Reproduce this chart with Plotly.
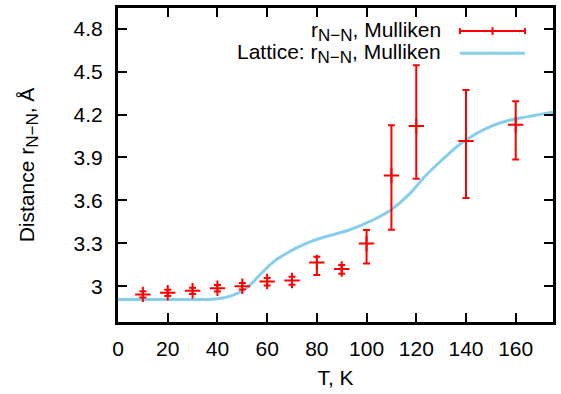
import plotly.graph_objects as go

# ---- data ----
T = [10, 20, 30, 40, 50, 60, 70, 80, 90, 100, 110, 120, 140, 160]
r_nn = [2.943, 2.954, 2.968, 2.986, 3.000, 3.033, 3.040, 3.166, 3.120, 3.298, 3.774, 4.120, 4.016, 4.129]
err_plus = [0.022, 0.022, 0.022, 0.022, 0.022, 0.025, 0.027, 0.040, 0.028, 0.095, 0.351, 0.424, 0.355, 0.164]
err_minus = [0.022, 0.022, 0.022, 0.022, 0.022, 0.028, 0.030, 0.087, 0.032, 0.139, 0.379, 0.369, 0.400, 0.243]

lat_T = [0, 10, 20, 30, 36, 40, 44, 48, 52, 56, 60, 64, 68, 72, 78, 85, 92, 98, 104, 110,
         117, 124, 131, 137, 144, 151, 157, 164, 171, 175]
lat_r = [2.907, 2.907, 2.907, 2.907, 2.908, 2.912, 2.925, 2.950, 2.990, 3.060, 3.130, 3.190,
         3.232, 3.270, 3.316, 3.354, 3.388, 3.428, 3.475, 3.536, 3.640, 3.778, 3.893, 3.986,
         4.066, 4.125, 4.159, 4.182, 4.205, 4.217]

x_ticks = [0, 20, 40, 60, 80, 100, 120, 140, 160]
y_ticks = [3.0, 3.3, 3.6, 3.9, 4.2, 4.5, 4.8]
y_ticktext = ["3", "3.3", "3.6", "3.9", "4.2", "4.5", "4.8"]

SUB = '<sub><span style="font-size:17px">N\u2212N</span></sub>'
label_data = "r" + SUB + ", Mulliken"
label_lat = "Lattice: r" + SUB + ", Mulliken"
label_y = "Distance r" + SUB + ", \u00c5"

RED = "#ff0000"
BLUE = "#87ceeb"
FONT = "Liberation Sans, Arial, sans-serif"
FS = 21

fig = go.Figure()
fig.add_trace(go.Scatter(
    x=lat_T, y=lat_r, mode="lines", line=dict(color=BLUE, width=3, shape="spline", smoothing=0.7),
    name="Lattice", showlegend=False))
fig.add_trace(go.Scatter(
    x=T, y=r_nn, mode="markers",
    marker=dict(symbol="cross-thin", size=11, line=dict(color=RED, width=2), color=RED),
    error_y=dict(type="data", symmetric=False, array=err_plus, arrayminus=err_minus,
                 color=RED, thickness=2, width=3.5),
    name="Mulliken", showlegend=False))

axis_common = dict(
    showline=True, linecolor="black", linewidth=3, mirror="allticks",
    ticks="inside", ticklen=9, tickwidth=2, tickcolor="black",
    showgrid=False, zeroline=False,
    tickfont=dict(family=FONT, size=FS, color="black"),
)

fig.update_xaxes(range=[0, 175], tickvals=x_ticks, ticklabelstandoff=6,
                 title=dict(text="T, K", font=dict(family=FONT, size=FS, color="black"), standoff=12),
                 **axis_common)
fig.update_yaxes(range=[2.75, 4.945], tickvals=y_ticks, ticktext=y_ticktext, ticklabelstandoff=8,
                 title=dict(text=label_y,
                            font=dict(family=FONT, size=FS, color="black"), standoff=34),
                 **axis_common)

# manual gnuplot-style key (top right, text right-aligned, sample to the right)
y1, y2 = 0.9265, 0.856
xs0, xs1, xm = 0.786, 0.9356, 0.861
cap = 0.0095
fig.add_annotation(x=0.7468, y=y1, xref="paper", yref="paper", text=label_data,
                   showarrow=False, xanchor="right", yanchor="middle",
                   font=dict(family=FONT, size=FS, color="black"))
fig.add_annotation(x=0.7468, y=y2, xref="paper", yref="paper", text=label_lat,
                   showarrow=False, xanchor="right", yanchor="middle",
                   font=dict(family=FONT, size=FS, color="black"))
for sh in [
    dict(x0=xs0, x1=xs1, y0=y1, y1=y1),
    dict(x0=xs0, x1=xs0, y0=y1 - cap, y1=y1 + cap),
    dict(x0=xs1, x1=xs1, y0=y1 - cap, y1=y1 + cap),
    dict(x0=xm, x1=xm, y0=y1 - 1.3 * cap, y1=y1 + 1.3 * cap),
]:
    fig.add_shape(type="line", xref="paper", yref="paper", line=dict(color=RED, width=2), **sh)
fig.add_shape(type="line", xref="paper", yref="paper", x0=xs0, x1=xs1, y0=y2, y1=y2,
              line=dict(color=BLUE, width=3))

fig.update_layout(
    width=561, height=394,
    margin=dict(l=118, r=8, t=5, b=72),
    paper_bgcolor="white", plot_bgcolor="white",
    font=dict(family=FONT, size=FS, color="black"),
    showlegend=False,
)

fig.write_html("out.html")
